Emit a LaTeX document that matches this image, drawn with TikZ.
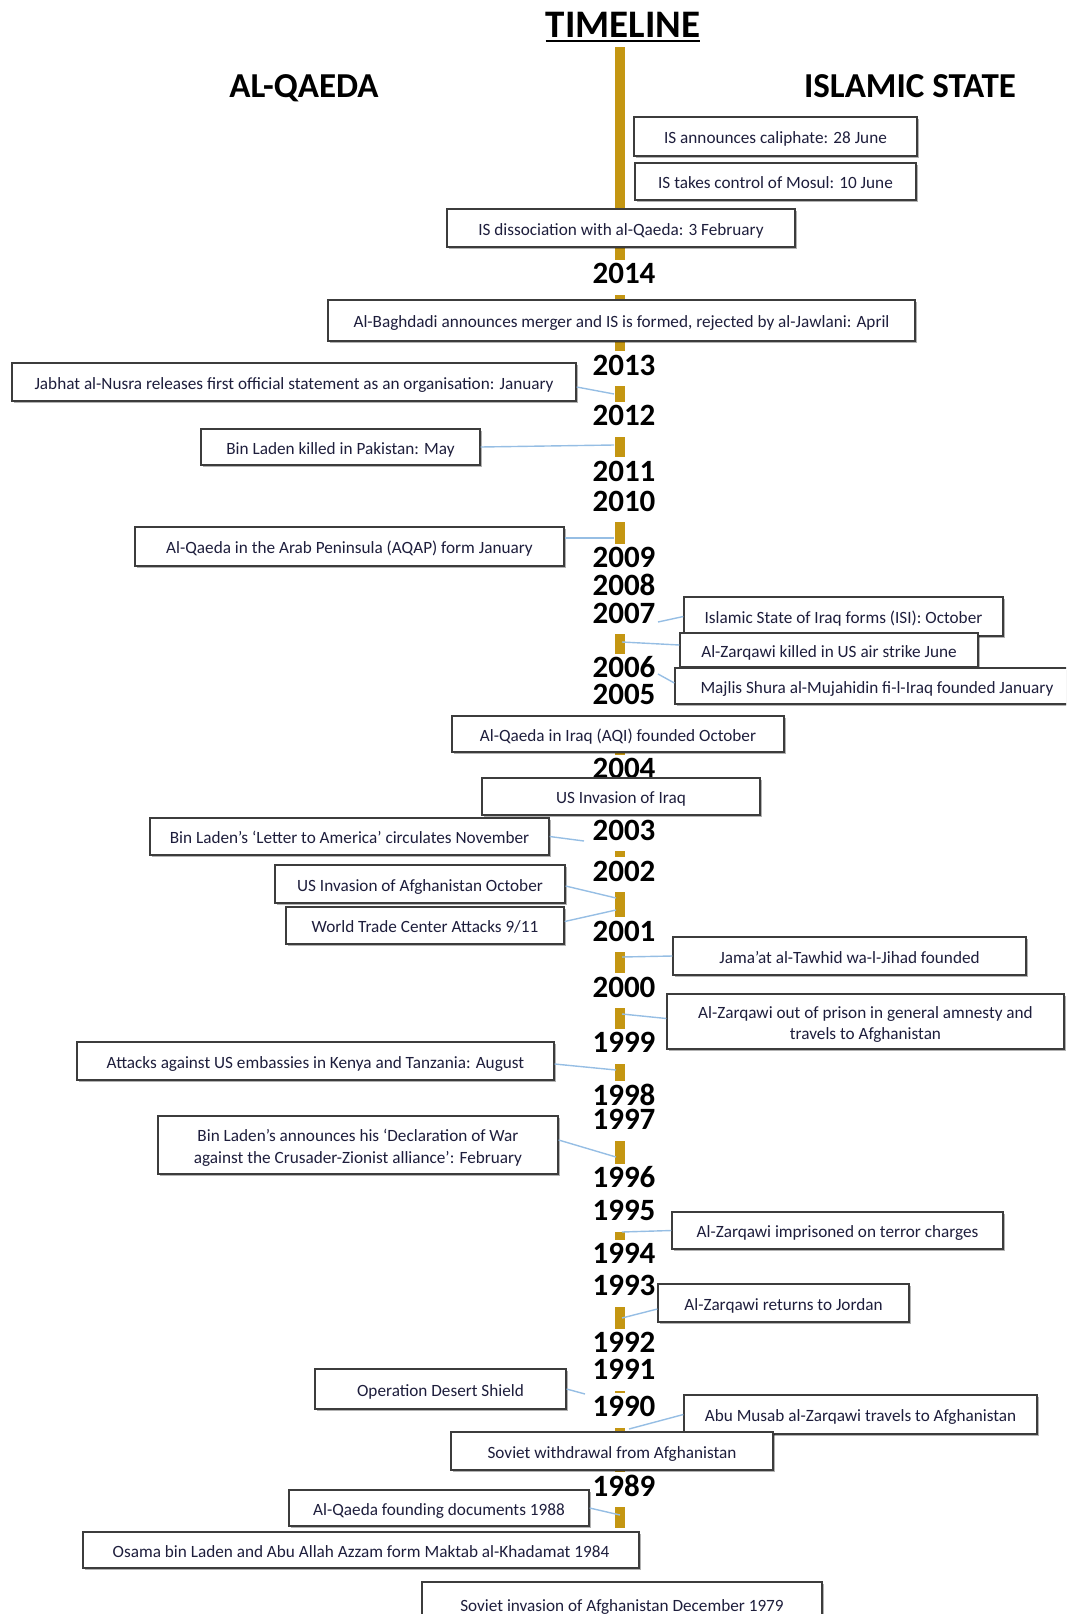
\documentclass[tikz,border=0pt]{standalone}
\usepackage{fontspec}
\setmainfont{Carlito}
\usetikzlibrary{shadows}
\definecolor{bargold}{RGB}{196,150,18}
\definecolor{linkblue}{RGB}{150,190,228}
\definecolor{boxline}{RGB}{60,60,60}
\definecolor{evtext}{RGB}{30,30,60}

\begin{document}
\begin{tikzpicture}[x=1pt, y=-1pt,
    event/.style={draw=boxline, line width=1.3pt, fill=white, inner sep=0pt, align=center, text=evtext,
        text height=14.5pt, text depth=0pt, font=\fontsize{17.2}{21.5}\selectfont,
        drop shadow={shadow xshift=1.6pt, shadow yshift=-1.6pt, fill=black, opacity=0.3}},
    twoline/.style={text height=36pt},
    year/.style={fill=white, anchor=base, inner xsep=1pt, inner ysep=2pt, text height=22pt, text depth=9pt,
        font=\fontsize{31}{31}\selectfont\bfseries},
    head/.style={anchor=base, inner sep=0pt, font=\fontsize{35}{35}\selectfont\bfseries},
    link/.style={draw=linkblue, line width=1.4pt},
    bar/.style={draw=bargold, line width=10pt}]
    \useasboundingbox (0,0) rectangle (1066,1614);
    \clip (0,0) rectangle (1066,1614);

    % titles
    \node[head, font=\fontsize{39}{39}\selectfont\bfseries] (title) at (623,37) {TIMELINE};
    \draw[line width=2.5pt] ([yshift=-4pt]title.base west) -- ([yshift=-4pt]title.base east);
    \node[head] (aq) at (304,97) {AL-QAEDA};
    \node[head] (is) at (910,97) {ISLAMIC STATE};

    % the timeline
    \coordinate (bartop) at (620,47);
    \coordinate (barbot) at (620,1528);
    \draw[bar] (bartop) -- (barbot);

    % years
    \node[year] (y2014) at (624,283.5) {2014};
    \node[year] (y2013) at (624,375) {2013};
    \node[year] (y2012) at (624,425.5) {2012};
    \node[year] (y2011) at (624,481) {2011};
    \node[year] (y2010) at (624,511) {2010};
    \node[year] (y2009) at (624,567.5) {2009};
    \node[year] (y2008) at (624,595.5) {2008};
    \node[year] (y2007) at (624,623) {2007};
    \node[year] (y2006) at (624,677.5) {2006};
    \node[year] (y2005) at (624,704.5) {2005};
    \node[year] (y2004) at (624,778.5) {2004};
    \node[year] (y2003) at (624,840) {2003};
    \node[year] (y2002) at (624,881) {2002};
    \node[year] (y2001) at (624,941) {2001};
    \node[year] (y2000) at (624,997) {2000};
    \node[year] (y1999) at (624,1052.5) {1999};
    \node[year] (y1998) at (624,1105) {1998};
    \node[year] (y1997) at (624,1129.5) {1997};
    \node[year] (y1996) at (624,1187.5) {1996};
    \node[year] (y1995) at (624,1220.5) {1995};
    \node[year] (y1994) at (624,1263.5) {1994};
    \node[year] (y1993) at (624,1295.5) {1993};
    \node[year] (y1992) at (624,1352.5) {1992};
    \node[year] (y1991) at (624,1379.5) {1991};
    \node[year] (y1990) at (624,1416.5) {1990};
    \node[year] (y1989) at (624,1496) {1989};

    % events
    \node[event, minimum width=283pt, minimum height=39pt] (caliph) at (775.5,136.5) {IS announces caliphate: 28 June};
    \node[event, minimum width=281pt, minimum height=37pt] (mosul) at (775.5,181.5) {IS takes control of Mosul: 10 June};
    \node[event, minimum width=348pt, minimum height=38pt] (dissoc) at (621,228) {IS dissociation with al-Qaeda: 3 February};
    \node[event, minimum width=587pt, minimum height=41pt] (merger) at (621.5,320.5) {Al-Baghdadi announces merger and IS is formed, rejected by al-Jawlani: April};
    \node[event, minimum width=564pt, minimum height=38pt] (nusra) at (294,382) {Jabhat al-Nusra releases first official statement as an organisation: January};
    \node[event, minimum width=279pt, minimum height=36pt] (blkilled) at (340.5,447) {Bin Laden killed in Pakistan: May};
    \node[event, minimum width=429pt, minimum height=39pt] (aqap) at (349.5,546.5) {Al-Qaeda in the Arab Peninsula (AQAP) form January};
    \node[event, minimum width=319pt, minimum height=39pt] (isi) at (843.5,616.5) {Islamic State of Iraq forms (ISI): October};
    \node[event, minimum width=298pt, minimum height=34pt] (zkilled) at (829,650) {Al-Zarqawi killed in US air strike June};
    \node[event, minimum width=404pt, minimum height=36pt] (majlis) at (877,686) {Majlis Shura al-Mujahidin fi-l-Iraq founded January};
    \node[event, minimum width=332pt, minimum height=36pt] (aqi) at (618,734) {Al-Qaeda in Iraq (AQI) founded October};
    \node[event, minimum width=278pt, minimum height=37pt] (usiraq) at (621,796.5) {US Invasion of Iraq};
    \node[event, minimum width=399pt, minimum height=37pt] (letter) at (349.5,836.5) {Bin Laden’s ‘Letter to America’ circulates November};
    \node[event, minimum width=290pt, minimum height=38pt] (usafg) at (420,884) {US Invasion of Afghanistan October};
    \node[event, minimum width=278pt, minimum height=37pt] (wtc) at (425,925.5) {World Trade Center Attacks 9/11};
    \node[event, minimum width=353pt, minimum height=38pt] (tawhid) at (849.5,956) {Jama’at al-Tawhid wa-l-Jihad founded};
    \node[event, twoline, minimum width=397pt, minimum height=55pt] (amnesty) at (865.5,1021.5) {Al-Zarqawi out of prison in general amnesty and\\travels to Afghanistan};
    \node[event, minimum width=477pt, minimum height=38pt] (embassy) at (315.5,1061) {Attacks against US embassies in Kenya and Tanzania: August};
    \node[event, twoline, minimum width=400pt, minimum height=58pt] (declar) at (358,1145) {Bin Laden’s announces his ‘Declaration of War\\against the Crusader-Zionist alliance’: February};
    \node[event, minimum width=331pt, minimum height=37pt] (prison) at (837.5,1230.5) {Al-Zarqawi imprisoned on terror charges};
    \node[event, minimum width=251pt, minimum height=38pt] (jordan) at (783.5,1303) {Al-Zarqawi returns to Jordan};
    \node[event, minimum width=251pt, minimum height=40pt] (shield) at (440.5,1389) {Operation Desert Shield};
    \node[event, minimum width=353pt, minimum height=39pt] (abumusab) at (860.5,1414.5) {Abu Musab al-Zarqawi travels to Afghanistan};
    \node[event, minimum width=322pt, minimum height=38pt] (withdraw) at (612,1451) {Soviet withdrawal from Afghanistan};
    \node[event, minimum width=300pt, minimum height=36pt] (founding) at (439,1508) {Al-Qaeda founding documents 1988};
    \node[event, minimum width=556pt, minimum height=36pt] (maktab) at (361,1550) {Osama bin Laden and Abu Allah Azzam form Maktab al-Khadamat 1984};
    \node[event, minimum width=400pt, minimum height=44pt] (sovinv) at (622,1604) {Soviet invasion of Afghanistan December 1979};

    % connector ends
    \coordinate (nusraend) at (614,394);
    \coordinate (blkend) at (614,445);
    \coordinate (aqapend) at (614,538);
    \coordinate (isiend) at (658,622);
    \coordinate (zkillend) at (622,642);
    \coordinate (majlisend) at (658,674);
    \coordinate (letterend) at (584,841);
    \coordinate (usafgend) at (616,898);
    \coordinate (wtcend) at (616,910);
    \coordinate (tawhidend) at (622,957);
    \coordinate (amnestyend) at (622,1014);
    \coordinate (embassyend) at (616,1070);
    \coordinate (declarend) at (616,1157);
    \coordinate (prisonend) at (622,1232);
    \coordinate (jordanend) at (622,1318);
    \coordinate (shieldend) at (585,1394);
    \coordinate (abumusabend) at (629,1429);
    \coordinate (foundingend) at (620,1515);

    % connectors
    \draw[link] ([yshift=-5pt]nusra.east) -- (nusraend);
    \draw[link] (blkilled.east) -- (blkend);
    \draw[link] ([yshift=8.5pt]aqap.east) -- (aqapend);
    \draw[link] (isiend) -- (isi.west);
    \draw[link] (zkillend) -- ([yshift=5pt]zkilled.west);
    \draw[link] (majlisend) -- ([yshift=3pt]majlis.west);
    \draw[link] (letter.east) -- (letterend);
    \draw[link] ([yshift=-2pt]usafg.east) -- (usafgend);
    \draw[link] ([yshift=4pt]wtc.east) -- (wtcend);
    \draw[link] (tawhidend) -- (tawhid.west);
    \draw[link] (amnestyend) -- ([yshift=3pt]amnesty.west);
    \draw[link] ([yshift=-3pt]embassy.east) -- (embassyend);
    \draw[link] ([yshift=5pt]declar.east) -- (declarend);
    \draw[link] (prisonend) -- (prison.west);
    \draw[link] (jordanend) -- ([yshift=-6pt]jordan.west);
    \draw[link] (shield.east) -- (shieldend);
    \draw[link] (abumusabend) -- (abumusab.west);
    \draw[link] (founding.east) -- (foundingend);
\end{tikzpicture}
\end{document}
